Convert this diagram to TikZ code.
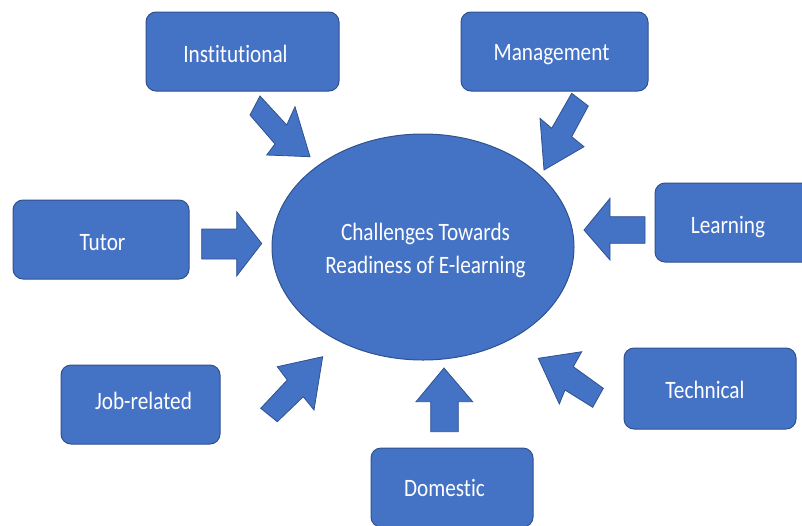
\documentclass[tikz,border=0pt]{standalone}
\usepackage{fontspec}
\setmainfont{Carlito}[FakeStretch=0.85, Ligatures=NoCommon]
\usetikzlibrary{shapes.geometric}
\definecolor{boxblue}{HTML}{4472C4}
\definecolor{edgeblue}{HTML}{2F528F}
\tikzset{
  labelfont/.style={font=\fontsize{25}{33.3}\selectfont},
  factor/.style={draw=edgeblue, line width=1pt, fill=boxblue, rounded corners=10pt,
    minimum height=79pt, inner sep=0pt},
  caption/.style={text=white, labelfont, inner sep=0pt, anchor=base},
  hub/.style={ellipse, draw=edgeblue, line width=1pt, fill=boxblue,
    minimum width=302pt, minimum height=226pt, inner sep=0pt},
  hubtext/.style={text=white, labelfont, align=center, inner sep=0pt},
  blockarrow/.style={draw=edgeblue, line width=0.8pt, fill=boxblue, line join=miter},
}
\begin{document}
\begin{tikzpicture}[x=1pt,y=-1pt]
\clip (0,0) rectangle (802,525);

% central ellipse
\node[hub] (hub) at (423,247) {};
\node[hubtext] (hubtxt) at (425.5,250.5) {Challenges Towards\\Readiness of E-learning};

% surrounding factor boxes
\node[factor, minimum width=193pt] (inst) at (242.5,51.5) {};
\node[factor, minimum width=187pt] (mgmt) at (554.5,51.5) {};
\node[factor, minimum width=176pt] (tutor) at (101,239.5) {};
\node[factor, minimum width=160pt] (learn) at (735,222.5) {};
\node[factor, minimum width=159pt] (job) at (140.5,404.5) {};
\node[factor, minimum width=172pt, minimum height=81pt] (tech) at (710,388.5) {};
\node[factor, minimum width=162pt] (dom) at (452,487.5) {};

% box captions, placed on their baselines
\node[caption] (insttxt) at (235.5,62) {Institutional};
\node[caption] (mgmttxt) at (551.5,60) {Management};
\node[caption] (tutortxt) at (102.5,250.5) {Tutor};
\node[caption] (learntxt) at (728,233) {Learning};
\node[caption] (jobtxt) at (143.5,409.5) {Job-related};
\node[caption] (techtxt) at (705,398) {Technical};
\node[caption] (domtxt) at (444.5,496.5) {Domestic};

% block arrows pointing at the ellipse
% Institutional
\draw[blockarrow] (250,115) -- (260,96) -- (286.7,125) -- (295,106.7) -- (310,156.7)
  -- (266.7,155) -- (275,144) -- cycle;
% Management
\draw[blockarrow] (571.7,93.3) -- (588.3,106) -- (571.7,136.7) -- (584,146.7) -- (544,170)
  -- (540,118.3) -- (551.7,128.3) -- cycle;
% Tutor
\draw[blockarrow] (201.7,229) -- (236.7,229) -- (236.7,211.7) -- (261.7,243.5)
  -- (236.7,276) -- (236.7,259) -- (201.7,259) -- cycle;
% Learning
\draw[blockarrow] (645,216.7) -- (610,216.7) -- (610,198.3) -- (584,230)
  -- (610,260) -- (610,243.3) -- (645,243.3) -- cycle;
% Job-related
\draw[blockarrow] (260.7,408.3) -- (287.3,380) -- (277.3,366.7) -- (322.7,356.7)
  -- (314,410) -- (303.3,396.7) -- (277.3,421.7) -- cycle;
% Technical
\draw[blockarrow] (603.3,388.3) -- (573.3,366.7) -- (581.7,351.7) -- (538.3,358.3)
  -- (559.3,404) -- (565,390) -- (592.7,407.3) -- cycle;
% Domestic
\draw[blockarrow] (430.7,431.7) -- (430.7,401.7) -- (416,401.7) -- (444,368)
  -- (472.7,401.7) -- (458.3,401.7) -- (458.3,431.7) -- cycle;
\end{tikzpicture}
\end{document}
